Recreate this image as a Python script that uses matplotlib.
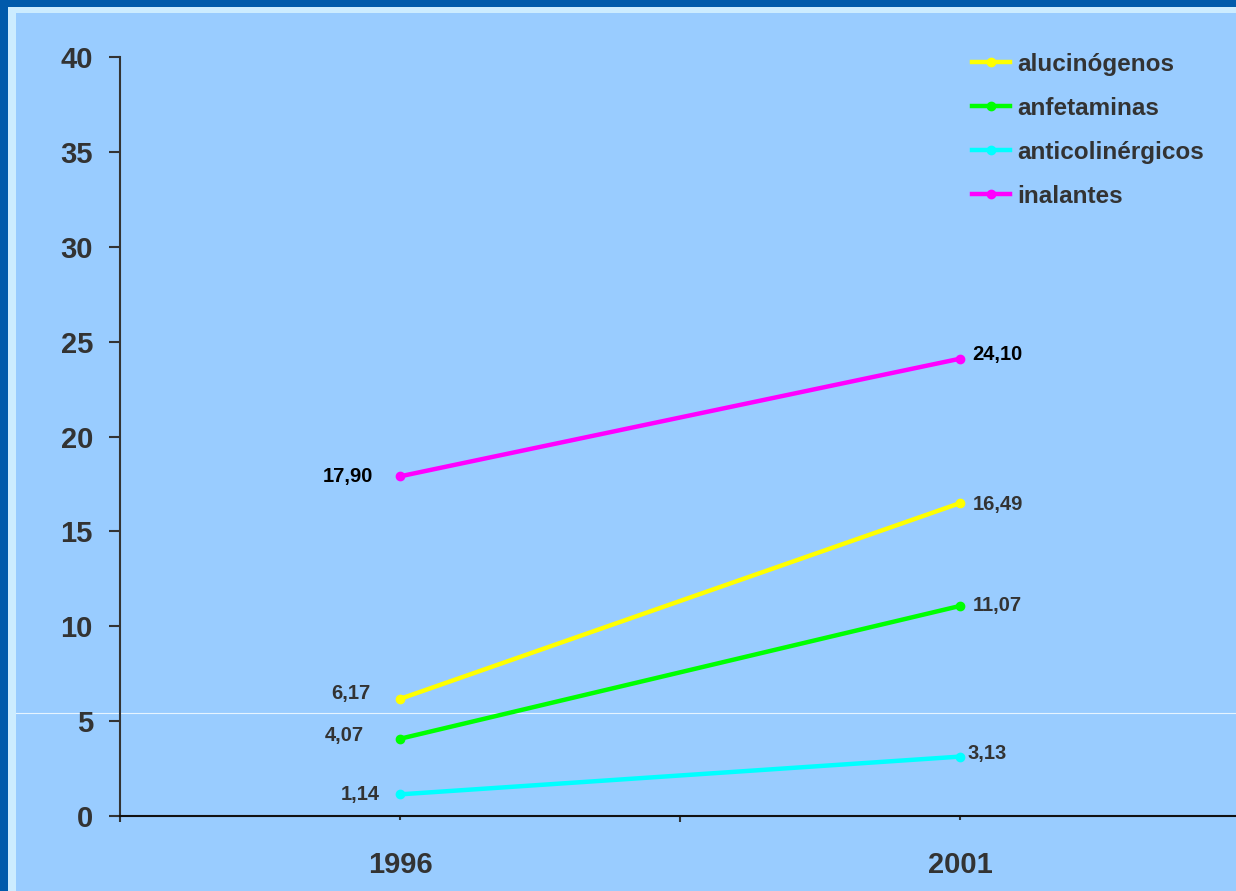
"""
Consumo de sustancias 1996 vs 2001 - line chart recreation.
"""

import matplotlib
matplotlib.use('Agg')
import matplotlib.pyplot as plt
from matplotlib.lines import Line2D
from matplotlib.patches import Rectangle

# Data
years = ["1996", "2001"]
series_names = ["alucinógenos", "anfetaminas", "anticolinérgicos", "inalantes"]
alucinogenos = [6.17, 16.49]
anfetaminas = [4.07, 11.07]
anticolinergicos = [1.14, 3.13]
inalantes = [17.90, 24.10]
y_ticks = [0, 5, 10, 15, 20, 25, 30, 35, 40]

series_values = [alucinogenos, anfetaminas, anticolinergicos, inalantes]
colors = ["#ffff00", "#00ff00", "#00ffff", "#ff00ff"]
label_colors = ["#333333", "#333333", "#333333", "#000000"]
# label offsets in pixels (left label, right label), as placed on the slide
left_offsets = [(-29, 5), (-36, 3), (-20, 0), (-27, 0)]
right_offsets = [(13, -1), (13, 0), (8, 3), (12, 4)]

W, H = 1236, 891
DPI = 100
PX = 72.0 / DPI  # points per pixel

plt.rcParams['font.family'] = ['Liberation Sans', 'DejaVu Sans']
plt.rcParams['font.weight'] = 'bold'

fig = plt.figure(figsize=(W / DPI, H / DPI), dpi=DPI, facecolor="#005aab")

# Slide background layers
fig.add_artist(Rectangle((8 / W, 0), 1, (H - 7) / H, transform=fig.transFigure,
                         facecolor="#ccecff", edgecolor="none", zorder=0))
fig.add_artist(Rectangle((16 / W, 0), 1, (H - 13) / H, transform=fig.transFigure,
                         facecolor="#99ccff", edgecolor="none", zorder=0))

# Thin white line crossing the slide (behind the chart)
fig.add_artist(Line2D([16 / W, 1], [(H - 713) / H] * 2, transform=fig.transFigure,
                      color="#e6f4ff", linewidth=0.8, zorder=1))

ax = fig.add_axes([120 / W, (H - 816) / H, 1120 / W, 759 / H])
ax.set_facecolor("none")
ax.set_zorder(2)

x = list(range(len(years)))
for name, vals, col in zip(series_names, series_values, colors):
    ax.plot(x, vals, color=col, linewidth=3.2, marker='o', markersize=6,
            label=name, clip_on=False, zorder=3)

# Data labels
for vals, lcol, lo, ro in zip(series_values, label_colors, left_offsets, right_offsets):
    ax.annotate(f"{vals[0]:.2f}".replace(".", ","), xy=(x[0], vals[0]),
                xytext=(lo[0] * PX, lo[1] * PX), textcoords='offset points',
                ha='right', va='center', fontsize=14.5, fontweight='bold', color=lcol)
    ax.annotate(f"{vals[1]:.2f}".replace(".", ","), xy=(x[1], vals[1]),
                xytext=(ro[0] * PX, ro[1] * PX), textcoords='offset points',
                ha='left', va='center', fontsize=14.5, fontweight='bold', color=lcol)

ax.set_xlim(-0.5, 1.5)
ax.set_ylim(0, 40)

ax.set_yticks(y_ticks)
ax.set_yticklabels([str(t) for t in y_ticks])
ax.set_xticks(x)
ax.set_xticklabels(years)
ax.set_xticks([-0.5, 0.5, 1.5], minor=True)

ax.tick_params(axis='y', direction='out', length=11 * PX, width=1.5, color="#333333",
               pad=16 * PX, labelsize=21, labelcolor="#333333")
ax.tick_params(axis='x', which='major', direction='out', length=4 * PX, width=1.5,
               color="#333333", pad=22, labelsize=21, labelcolor="#333333")
ax.tick_params(axis='x', which='minor', direction='out', length=6 * PX, width=1.5,
               color="#333333")

for side in ["top", "right"]:
    ax.spines[side].set_visible(False)
ax.spines["left"].set_color("#333333")
ax.spines["left"].set_linewidth(1.5)
ax.spines["bottom"].set_color("#111111")
ax.spines["bottom"].set_linewidth(1.5)

leg = ax.legend(loc='upper left', bbox_to_anchor=(972 / W, (H - 53) / H),
                bbox_transform=fig.transFigure, frameon=False, fontsize=17.5,
                handlelength=1.55, handletextpad=0.3, labelspacing=0.86,
                borderpad=0, borderaxespad=0)
for t in leg.get_texts():
    t.set_color("#333333")
    t.set_fontweight('bold')

fig.savefig("out.png", dpi=DPI, facecolor=fig.get_facecolor())
